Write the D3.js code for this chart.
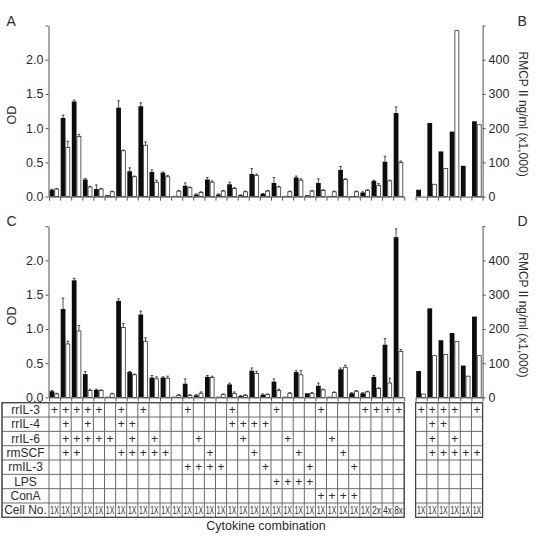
<!DOCTYPE html>
<html>
<head>
<meta charset="utf-8">
<script src="https://cdn.jsdelivr.net/npm/d3@7"></script>
<style>
body{margin:0;background:#fff;}
svg text{font-family:"Liberation Sans",Arial,Helvetica,sans-serif;fill:#2b2b2b;}
.axis path,.axis line{stroke:#555;stroke-width:1;}
.axis text{font-size:12.5px;fill:#2b2b2b;}
</style>
</head>
<body>
<div id="chart"></div>
<script>
var W = 537, H = 537;

// ---- panel A (upper, OD) ----
var odA_black = [0.10,1.15,1.39,0.25,0.11,0.02,1.30,0.37,1.32,0.36,0.35,0.01,0.16,0.03,0.25,0.03,0.18,0.02,0.33,0.04,0.20,0.01,0.28,0.02,0.20,0.01,0.39,0.01,0.06,0.23,0.51,1.22];
var odA_white = [0.11,0.72,0.88,0.14,0.11,0.07,0.67,0.29,0.75,0.21,0.29,0.08,0.13,0.06,0.21,0.08,0.12,0.07,0.31,0.08,0.14,0.07,0.24,0.08,0.09,0.07,0.25,0.07,0.09,0.16,0.23,0.50];
var errA_black = [0.01,0.04,0.02,0.015,0.06,0,0.10,0.05,0.05,0.03,0.01,0,0.04,0.01,0.03,0.01,0.03,0.005,0.08,0.005,0.08,0,0.02,0,0.06,0,0.05,0,0.01,0.01,0.08,0.09];
var errA_white = [0.01,0.09,0.03,0.01,0.01,0.01,0.01,0.01,0.05,0.03,0.02,0.01,0.01,0.01,0.02,0.01,0.01,0.01,0.02,0.01,0.01,0.01,0.02,0.01,0.01,0.01,0.01,0.01,0.01,0.03,0.01,0.02];
// ---- panel B (upper, RMCP II) ----
var rmcpB_black = [20,215,132,190,90,220];
var rmcpB_white = [0,36,82,485,0,210];

// ---- panel C (lower, OD) ----
var odC_black = [0.09,1.29,1.71,0.34,0.11,0.01,1.41,0.37,1.21,0.29,0.29,0.01,0.20,0.03,0.30,0.01,0.19,0.02,0.39,0.04,0.23,0.01,0.37,0.06,0.17,0.01,0.41,0.06,0.06,0.30,0.77,2.34];
var odC_white = [0.05,0.78,0.97,0.10,0.10,0.05,1.02,0.33,0.82,0.27,0.28,0.03,0.03,0.06,0.29,0.04,0.06,0.03,0.35,0.04,0.10,0.06,0.33,0.06,0.11,0.07,0.44,0.09,0.08,0.13,0.21,0.67];
var errC_black = [0.01,0.16,0.03,0.04,0.01,0,0.03,0.01,0.05,0.03,0.01,0,0.07,0.01,0.02,0,0.02,0.01,0.04,0.01,0.04,0,0.02,0,0.04,0,0.02,0.01,0.01,0.02,0.09,0.12];
var errC_white = [0.01,0.04,0.08,0.02,0.01,0.01,0.06,0.01,0.05,0.03,0.03,0.01,0.01,0.02,0.02,0.01,0.02,0.01,0.03,0.01,0.02,0.01,0.06,0.01,0.01,0.01,0.03,0.01,0.01,0.01,0.07,0.03];
// ---- panel D (lower, RMCP II) ----
var rmcpD_black = [77,260,167,188,93,236];
var rmcpD_white = [10,122,125,163,62,122];

// ---- combination table ----
var rowNames = ["rrIL-3","rrIL-4","rrIL-6","rmSCF","rmIL-3","LPS","ConA","Cell No."];
var plusLeft = [
  [0,1,2,3,4,6,8,12,16,20,24,28,29,30,31],
  [1,3,6,7,16,17,18,19],
  [1,2,3,4,5,7,9,13,17,21,25],
  [1,2,6,7,8,9,10,14,18,22,26],
  [12,13,14,15,19,23,27],
  [20,21,22,23],
  [24,25,26,27]
];
var plusRight = [
  [0,1,2,3,5],
  [1,2],
  [1,3],
  [1,2,3,4,5],
  [], [], []
];
var cellNoLeft = ["1X","1X","1X","1X","1X","1X","1X","1X","1X","1X","1X","1X","1X","1X","1X","1X",
                  "1X","1X","1X","1X","1X","1X","1X","1X","1X","1X","1X","1X","1X","2x","4x","8x"];
var cellNoRight = ["1X","1X","1X","1X","1X","1X"];

var svg = d3.select("#chart").append("svg").attr("width", W).attr("height", H);

var xL = d3.scaleLinear().domain([0, 32]).range([49, 404.2]);
var xR = d3.scaleLinear().domain([0, 6]).range([415.6, 482.6]);
var stepL = xL(1) - xL(0), stepR = xR(1) - xR(0);

function bars(g, xs, step, ys, bk, wh, bkE, whE) {
  var bw = (step - 1.6) / 2;
  var y0 = ys(0);
  g.selectAll(".bk").data(bk).enter().append("rect")
    .attr("x", (d, i) => xs(i) + 0.6).attr("width", bw)
    .attr("y", d => ys(d)).attr("height", d => y0 - ys(d))
    .attr("fill", "#0d0d0d");
  g.selectAll(".wh").data(wh).enter().append("rect")
    .attr("x", (d, i) => xs(i) + 0.6 + bw + 0.4).attr("width", bw - 0.8)
    .attr("y", d => ys(d)).attr("height", d => Math.max(0, y0 - ys(d)))
    .attr("fill", d => d > 0 ? "#fff" : "none").attr("stroke", d => d > 0 ? "#333" : "none").attr("stroke-width", 0.8);
  if (!bkE) return;
  [[bk, bkE, 0.6 + bw / 2], [wh, whE, 0.6 + bw + bw / 2]].forEach(function (s) {
    var pts = s[0].map((v, i) => ({i: i, v: v, e: s[1][i]})).filter(p => p.e > 0.004);
    var eg = g.append("g").attr("stroke", "#222").attr("stroke-width", 0.8);
    eg.selectAll("line.v").data(pts).enter().append("line")
      .attr("x1", p => xs(p.i) + s[2]).attr("x2", p => xs(p.i) + s[2])
      .attr("y1", p => ys(p.v)).attr("y2", p => ys(p.v + p.e));
    eg.selectAll("line.c").data(pts).enter().append("line")
      .attr("x1", p => xs(p.i) + s[2] - 1.3).attr("x2", p => xs(p.i) + s[2] + 1.3)
      .attr("y1", p => ys(p.v + p.e)).attr("y2", p => ys(p.v + p.e));
  });
}

function panel(y0, y1, letter, bk, wh, bkE, whE, rbk, rwh) {
  var yOD = d3.scaleLinear().domain([0, 2.5]).range([y0, y1]);
  var yRM = d3.scaleLinear().domain([0, 500]).range([y0, y1]);
  var g = svg.append("g");

  bars(g.append("g"), xL, stepL, yOD, bk, wh, bkE, whE);
  bars(g.append("g"), xR, stepR, yRM, rbk, rwh, null, null);

  g.append("g").attr("class", "axis").attr("transform", "translate(48.5,0)")
    .call(d3.axisLeft(yOD).tickValues([0, 0.5, 1, 1.5, 2, 2.5]).tickSize(3).tickSizeOuter(0).tickPadding(2)
      .tickFormat(d => d === 2.5 ? "" : d3.format(".1f")(d)));
  g.append("g").attr("class", "axis").attr("transform", "translate(0," + y0 + ")")
    .call(d3.axisBottom(xL).tickValues(d3.range(0, 33)).tickSize(4).tickSizeOuter(0).tickFormat(""));
  g.append("g").attr("class", "axis").attr("transform", "translate(0," + y0 + ")")
    .call(d3.axisBottom(xR).tickValues(d3.range(0, 7)).tickSize(4).tickSizeOuter(0).tickFormat(""));
  g.append("g").attr("class", "axis").attr("transform", "translate(" + xR(6) + ",0)")
    .call(d3.axisRight(yRM).tickValues([0, 100, 200, 300, 400, 500]).tickSize(3).tickSizeOuter(0).tickPadding(3)
      .tickFormat(d => d === 500 ? "" : d));

  var mid = (y0 + y1) / 2 + 4;
  g.append("text").attr("transform", "translate(15.5," + mid + ") rotate(-90)")
    .attr("text-anchor", "middle").style("font-size", "12.5px").text("OD");
  g.append("text").attr("transform", "translate(519," + (mid - 1) + ") rotate(90)")
    .attr("text-anchor", "middle").style("font-size", "12px").text("RMCP II ng/ml (x1,000)");
  g.append("text").attr("x", 6.5).attr("y", y1).style("font-size", "14px").text(letter[0]);
  g.append("text").attr("x", 517.5).attr("y", y1).style("font-size", "14px").text(letter[1]);
}

panel(196.6, 25.5, ["A", "B"], odA_black, odA_white, errA_black, errA_white, rmcpB_black, rmcpB_white);
panel(397.4, 226.2, ["C", "D"], odC_black, odC_white, errC_black, errC_white, rmcpD_black, rmcpD_white);

// ---- table ----
var tTop = 402.7, rowH = 14.33;
var yRow = d3.scaleLinear().domain([0, rowNames.length]).range([tTop, tTop + rowH * rowNames.length]);
var tbl = svg.append("g");
var lineCol = "#6a6a6a";

function grid(xs, n, x0) {
  var gg = tbl.append("g").attr("stroke", lineCol).attr("stroke-width", 1).attr("fill", "none");
  var xsPos = d3.range(0, n + 1).map(i => xs(i));
  if (x0 !== null) xsPos.unshift(x0);
  gg.selectAll("line.v").data(xsPos).enter().append("line")
    .attr("x1", d => d).attr("x2", d => d).attr("y1", yRow(0)).attr("y2", yRow(rowNames.length));
  gg.selectAll("line.h").data(d3.range(0, rowNames.length + 1)).enter().append("line")
    .attr("x1", x0 !== null ? x0 : xs(0)).attr("x2", xs(n))
    .attr("y1", d => yRow(d)).attr("y2", d => yRow(d));
  gg.append("rect").attr("x", x0 !== null ? x0 : xs(0)).attr("y", yRow(0))
    .attr("width", xs(n) - (x0 !== null ? x0 : xs(0))).attr("height", yRow(rowNames.length) - yRow(0))
    .attr("stroke", "#444").attr("stroke-width", 1.2);
}
grid(xL, 32, 2);
grid(xR, 6, null);

tbl.selectAll("text.rn").data(rowNames).enter().append("text")
  .attr("x", 25.5).attr("y", (d, i) => yRow(i) + rowH / 2 + 4.3)
  .attr("text-anchor", "middle").style("font-size", "12px").text(d => d);

function pluses(xs, step, rows) {
  var pts = [];
  rows.forEach((cols, r) => cols.forEach(c => pts.push({r: r, c: c})));
  tbl.append("g").selectAll("text").data(pts).enter().append("text")
    .attr("x", p => xs(p.c) + step / 2).attr("y", p => yRow(p.r) + rowH / 2 + 4.2)
    .attr("text-anchor", "middle").style("font-size", "12px").text("+");
}
pluses(xL, stepL, plusLeft);
pluses(xR, stepR, plusRight);

function cellNos(xs, step, labels) {
  tbl.append("g").selectAll("text").data(labels).enter().append("text")
    .attr("x", (d, i) => xs(i) + step / 2).attr("y", yRow(7) + rowH / 2 + 3.8)
    .attr("text-anchor", "middle")
    .attr("textLength", step - 2.6).attr("lengthAdjust", "spacingAndGlyphs")
    .style("font-size", "10px").text(d => d);
}
cellNos(xL, stepL, cellNoLeft);
cellNos(xR, stepR, cellNoRight);

svg.append("text").attr("x", 266).attr("y", 530).attr("text-anchor", "middle")
  .style("font-size", "12.5px").text("Cytokine combination");
</script>
</body>
</html>
